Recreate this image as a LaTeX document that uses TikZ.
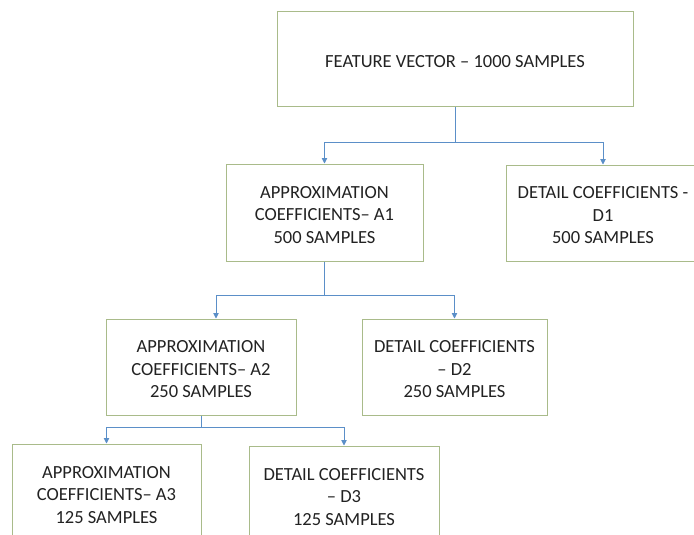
\documentclass[tikz,border=0pt]{standalone}
\usepackage{fontspec}
\setmainfont{Carlito}
\usetikzlibrary{arrows.meta}
\definecolor{boxline}{HTML}{A9BB8A}
\definecolor{arrblue}{HTML}{5B8FC8}
\definecolor{txt}{HTML}{222222}
\newcommand{\tup}{\rule{0pt}{17pt}}
\tikzset{
  box/.style={draw=boxline, line width=1pt, fill=white, inner sep=0pt, align=center,
    text=txt, font=\fontsize{18.5}{22.5}\selectfont},
  conn/.style={draw=arrblue, line width=0.9pt, -{Triangle[length=5.5pt,width=5.5pt]}}
}
\begin{document}
\begin{tikzpicture}[x=1pt,y=-1pt]
\useasboundingbox (0,0) rectangle (694,535);
\clip (0,0) rectangle (694,535);
\fill[white] (0,0) rectangle (694,535);
\node[box, minimum width=356pt, minimum height=95pt] (top) at (455,59.5) {\tup FEATURE VECTOR -- 1000 SAMPLES};
\node[box, minimum width=197pt, minimum height=97pt] (A1) at (324.5,212.5) {\tup APPROXIMATION\\COEFFICIENTS-- A1\\500 SAMPLES};
\node[box, minimum width=194pt, minimum height=96pt] (D1) at (603,213) {\tup DETAIL COEFFICIENTS -\\D1\\500 SAMPLES};
\node[box, minimum width=190pt, minimum height=96pt] (A2) at (201,367) {\tup APPROXIMATION\\COEFFICIENTS-- A2\\250 SAMPLES};
\node[box, minimum width=185pt, minimum height=96pt] (D2) at (454.5,367) {\tup DETAIL COEFFICIENTS\\-- D2\\250 SAMPLES};
\node[box, minimum width=189pt, minimum height=97pt] (A3) at (106.5,492.5) {\tup APPROXIMATION\\COEFFICIENTS-- A3\\125 SAMPLES};
\node[box, minimum width=190pt, minimum height=97pt] (D3) at (344,494.5) {\tup DETAIL COEFFICIENTS\\-- D3\\125 SAMPLES};
\coordinate (a2in) at ([xshift=15pt]A2.north);
\draw[conn] (top.south) -- ++(0,35) -| (A1.north);
\draw[conn] (top.south) -- ++(0,35) -| (D1.north);
\draw[conn] (A1.south) -- ++(0,34) -| (a2in);
\draw[conn] (A1.south) -- ++(0,34) -| (D2.north);
\draw[conn] (A2.south) -- ++(0,12) -| (A3.north);
\draw[conn] (A2.south) -- ++(0,12) -| (D3.north);
\end{tikzpicture}
\end{document}
